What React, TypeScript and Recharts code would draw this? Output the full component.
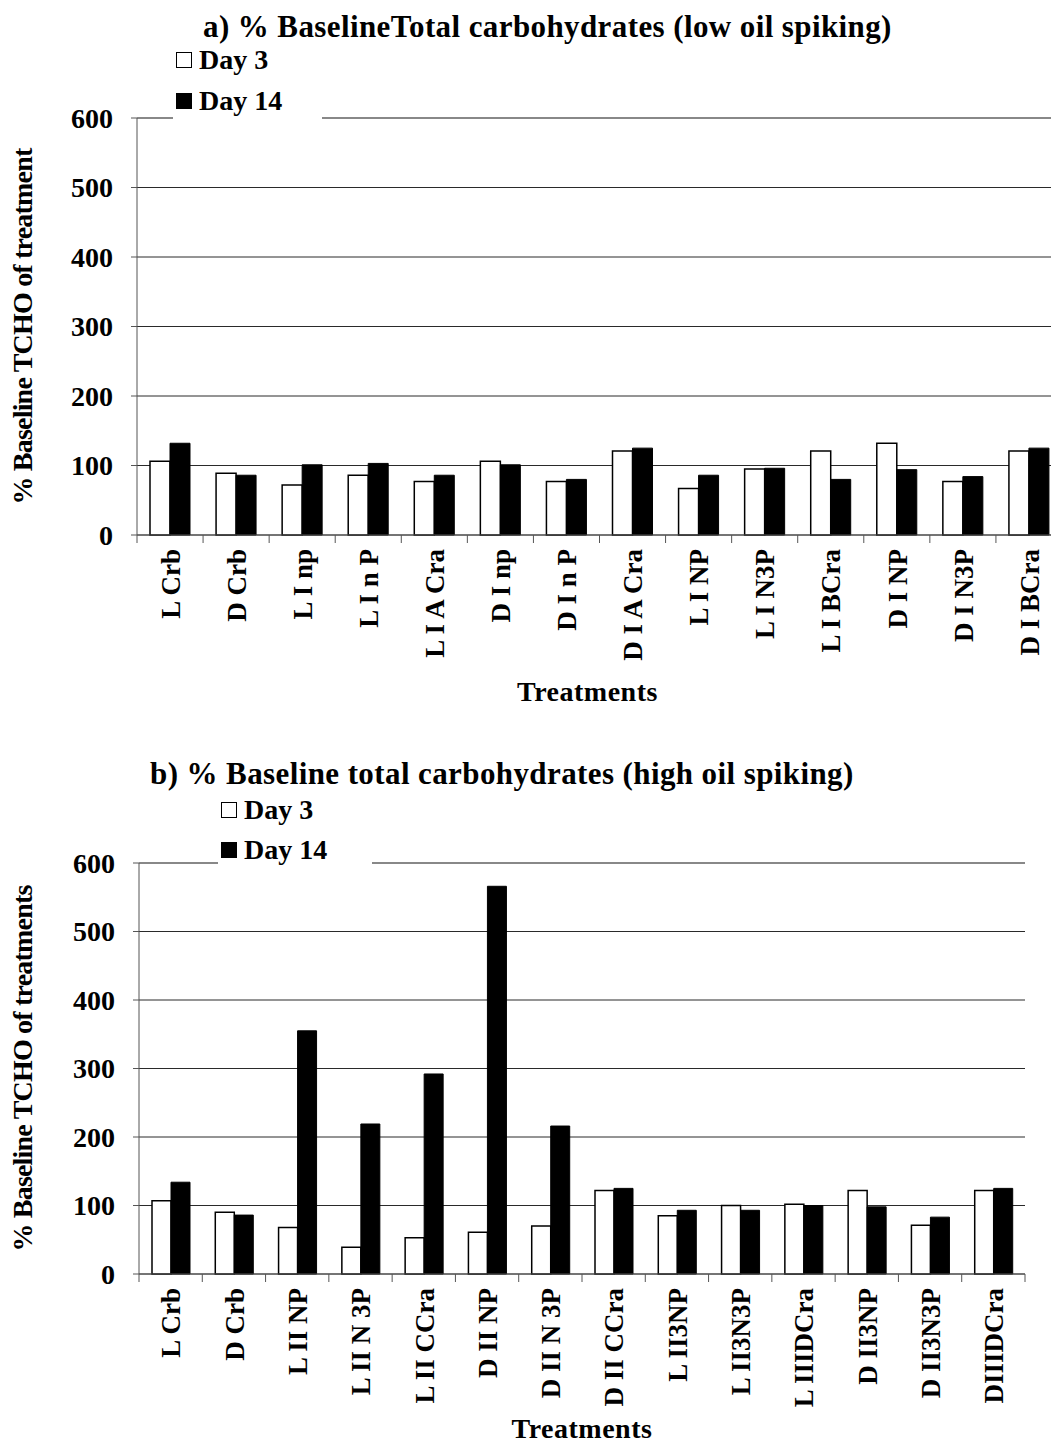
import { BarChart, Bar, XAxis, YAxis, CartesianGrid, ReferenceLine } from "recharts";

const categoriesA = [
  "L Crb", "D Crb", "L I np", "L I n P", "L I A Cra", "D I np", "D I n P",
  "D I A Cra", "L I NP", "L I N3P", "L I BCra", "D I NP", "D I N3P", "D I BCra",
];
const day3A = [106, 89, 72, 86, 77, 106, 77, 121, 67, 95, 121, 132, 77, 121];
const day14A = [132, 86, 101, 103, 86, 101, 80, 125, 86, 96, 80, 94, 84, 125];

const categoriesB = [
  "L Crb", "D Crb", "L II NP", "L II N 3P", "L II CCra", "D II NP", "D II N 3P",
  "D II CCra", "L II3NP", "L II3N3P", "L IIIDCra", "D II3NP", "D II3N3P", "DIIIDCra",
];
const day3B = [107, 90, 68, 39, 53, 61, 70, 122, 85, 100, 102, 122, 71, 122];
const day14B = [134, 86, 355, 219, 292, 566, 216, 125, 93, 93, 100, 98, 83, 125];

const yTicks = [0, 100, 200, 300, 400, 500, 600];

const FONT = "'Liberation Serif', 'Times New Roman', serif";

function makeTick(step: number, count: number) {
  return (props: any) => {
    const { x, y, payload, index } = props;
    return (
      <g>
        <line x1={x - step / 2} x2={x - step / 2} y1={y - 12} y2={y - 4} stroke="#555" />
        {index === count - 1 && (
          <line x1={x + step / 2} x2={x + step / 2} y1={y - 12} y2={y - 4} stroke="#555" />
        )}
        <text
          transform={`translate(${x},${y + 2}) rotate(-90)`}
          textAnchor="end"
          dy="0.36em"
          fontSize={27}
          fontWeight="bold"
          fontFamily={FONT}
          fill="#000"
        >
          {payload.value}
        </text>
      </g>
    );
  };
}

type PanelProps = {
  top: number;
  width: number;
  height: number;
  margin: { top: number; right: number; bottom: number; left: number };
  yAxisWidth: number;
  barSize: number;
  categories: string[];
  day3: number[];
  day14: number[];
  yLabel: string;
  xLabelShift: number;
  xLabelDy: number;
  title: string;
  titleLeft: number;
  titleTop: number;
  legendLeft: number;
  legendTop: number;
  legendWidth: number;
  legendGap: number;
};

function Panel(p: PanelProps) {
  const data = p.categories.map((name, i) => ({ name, day3: p.day3[i], day14: p.day14[i] }));
  const plotWidth = p.width - p.margin.left - p.margin.right - p.yAxisWidth;
  const step = plotWidth / p.categories.length;
  const plotCenter = p.margin.left + p.yAxisWidth + plotWidth / 2;

  return (
    <div style={{ position: "absolute", left: 0, top: p.top, width: p.width, height: p.height }}>
      <BarChart width={p.width} height={p.height} data={data} margin={p.margin} barGap={0} barSize={p.barSize}>
        <CartesianGrid horizontal vertical={false} stroke="#2a2a2a" />
        <ReferenceLine y={600} stroke="#888" strokeWidth={2} />
        <XAxis
          dataKey="name"
          interval={0}
          tickLine={false}
          tickSize={8}
          tickMargin={4}
          axisLine={{ stroke: "#555" }}
          height={170}
          tick={makeTick(step, p.categories.length)}
          label={{
            content: () => (
              <text
                x={plotCenter + p.xLabelShift}
                y={p.height - p.margin.bottom - 170 + 166 + p.xLabelDy}
                textAnchor="middle"
                fontSize={28}
                fontWeight="bold"
                fontFamily={FONT}
                letterSpacing={0.5}
                fill="#000"
              >
                Treatments
              </text>
            ),
          }}
        />
        <YAxis
          width={p.yAxisWidth}
          domain={[0, 600]}
          ticks={yTicks}
          interval={0}
          axisLine={{ stroke: "#555" }}
          tickLine={{ stroke: "#555" }}
          tickSize={6}
          tickMargin={18}
          tick={{ fontSize: 28, fontWeight: "bold", fill: "#000", fontFamily: FONT }}
          label={{
            content: () => {
              const cy = p.margin.top + (p.height - p.margin.top - p.margin.bottom - 170) / 2;
              return (
                <text
                  transform={`translate(${22},${cy}) rotate(-90)`}
                  textAnchor="middle"
                  dy="0.35em"
                  fontSize={28}
                  fontWeight="bold"
                  fontFamily={FONT}
                  letterSpacing={-0.8}
                  fill="#000"
                >
                  {p.yLabel}
                </text>
              );
            },
          }}
        />
        <YAxis yAxisId="right" orientation="right" width={0} tick={false} tickLine={false} axisLine={{ stroke: "#888", strokeWidth: 2 }} />
        <Bar dataKey="day3" fill="#fff" stroke="#000" strokeWidth={1.5} isAnimationActive={false} />
        <Bar dataKey="day14" fill="#000" stroke="#000" strokeWidth={1} isAnimationActive={false} />
      </BarChart>
      <div
        style={{
          position: "absolute",
          left: p.titleLeft,
          top: p.titleTop,
          fontSize: 31,
          fontWeight: "bold",
          fontFamily: FONT,
          letterSpacing: 0.4,
          whiteSpace: "nowrap",
          color: "#000",
          lineHeight: 1,
        }}
      >
        {p.title}
      </div>
      {/* white patch that breaks the top border behind the legend */}
      <div
        style={{
          position: "absolute",
          left: p.legendLeft,
          top: p.legendTop + p.legendGap,
          width: p.legendWidth,
          height: p.margin.top - p.legendTop - p.legendGap + 4,
          background: "#fff",
        }}
      />
      <div
        style={{
          position: "absolute",
          left: p.legendLeft,
          top: p.legendTop,
          width: p.legendWidth,
          fontFamily: FONT,
          fontWeight: "bold",
          fontSize: 28,
          lineHeight: 1,
        }}
      >
        {[
          { label: "Day 3", fill: "#fff" },
          { label: "Day 14", fill: "#000" },
        ].map((it) => (
          <div key={it.label} style={{ display: "flex", alignItems: "center", height: p.legendGap, paddingLeft: 3 }}>
            <span
              style={{
                display: "inline-block",
                width: 14,
                height: 14,
                background: it.fill,
                border: "1.5px solid #000",
                marginRight: 7,
              }}
            />
            <span>{it.label}</span>
          </div>
        ))}
      </div>
    </div>
  );
}

export default function App() {
  return (
    <div
      style={{
        position: "absolute",
        left: 0,
        top: 0,
        width: 1051,
        height: 1443,
        overflow: "hidden",
        background: "#fff",
      }}
    >
      <Panel
        top={0}
        width={1080}
        height={720}
        margin={{ top: 118, right: 18, bottom: 15, left: 12 }}
        yAxisWidth={125}
        barSize={20}
        categories={categoriesA}
        day3={day3A}
        day14={day14A}
        yLabel="% Baseline TCHO of treatment"
        xLabelShift={-12}
        xLabelDy={0}
        title="a) % BaselineTotal carbohydrates (low oil spiking)"
        titleLeft={203}
        titleTop={11}
        legendLeft={173}
        legendTop={39}
        legendWidth={149}
        legendGap={41}
      />
      <Panel
        top={740}
        width={1040}
        height={720}
        margin={{ top: 123, right: 15, bottom: 16, left: 14 }}
        yAxisWidth={125}
        barSize={19}
        categories={categoriesB}
        day3={day3B}
        day14={day14B}
        yLabel="% Baseline TCHO of treatments"
        xLabelShift={0}
        xLabelDy={-2}
        title="b) % Baseline total carbohydrates (high oil spiking)"
        titleLeft={150}
        titleTop={18}
        legendLeft={218}
        legendTop={50}
        legendWidth={154}
        legendGap={40}
      />
    </div>
  );
}
